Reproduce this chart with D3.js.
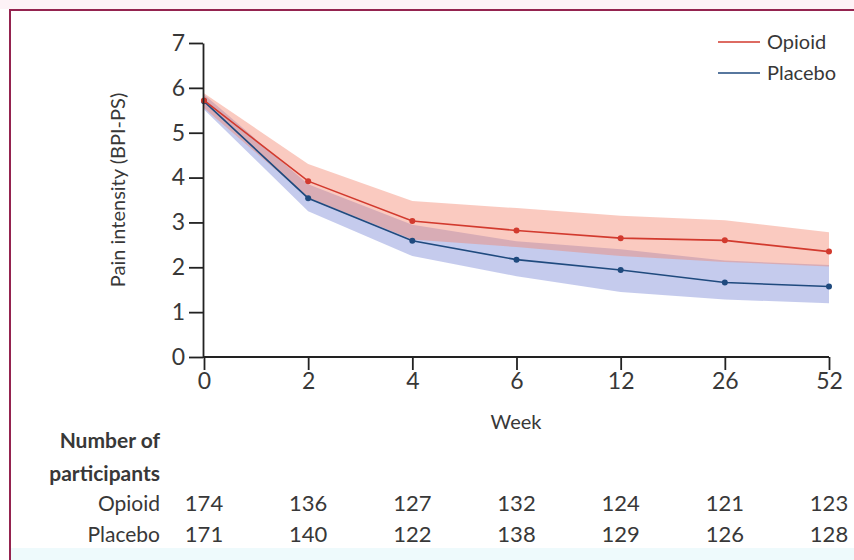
<!DOCTYPE html>
<html>
<head>
<meta charset="utf-8">
<script src="https://cdn.jsdelivr.net/npm/d3@7"></script>
<style>
  body { margin: 0; background: #fff; }
  svg text { font-family: Lato, "Open Sans", sans-serif; fill: #383838; }
</style>
</head>
<body>
<div id="chart"></div>
<script>
// weeks on the x axis
const weeks = ["0", "2", "4", "6", "12", "26", "52"];

// pain intensity means and 95% CI
const opioidMean  = [5.72, 3.92, 3.03, 2.82, 2.65, 2.60, 2.35];
const opioidLow   = [5.55, 3.55, 2.62, 2.45, 2.25, 2.12, 2.02];
const opioidHigh  = [5.88, 4.30, 3.48, 3.32, 3.15, 3.05, 2.78];
const placeboMean = [5.70, 3.54, 2.59, 2.17, 1.94, 1.66, 1.57];
const placeboLow  = [5.52, 3.25, 2.25, 1.80, 1.45, 1.28, 1.20];
const placeboHigh = [5.85, 3.85, 2.95, 2.58, 2.40, 2.15, 2.05];

// number of participants at each week
const opioidN  = [174, 136, 127, 132, 124, 121, 123];
const placeboN = [171, 140, 122, 138, 129, 126, 128];

const yTicks = [0, 1, 2, 3, 4, 5, 6, 7];

const width = 854, height = 560;

const svg = d3.select("#chart").append("svg")
    .attr("width", width)
    .attr("height", height);

// background bits of the frame
svg.append("rect").attr("x", 0).attr("y", 0).attr("width", width).attr("height", 9)
    .attr("fill", "#fdf2f6");
svg.append("rect").attr("x", 11).attr("y", 548).attr("width", width).attr("height", 12)
    .attr("fill", "#eefafc");
svg.append("rect").attr("x", 10).attr("y", 10).attr("width", 900).attr("height", 700)
    .attr("fill", "none").attr("stroke", "#94234f").attr("stroke-width", 2);

const x = d3.scalePoint().domain(weeks).range([204, 829]);
const y = d3.scaleLinear().domain([0, 7]).range([357, 43]);

function rows(mean, low, high) {
    return weeks.map((w, i) => ({week: w, mean: mean[i], low: low[i], high: high[i]}));
}
const series = [
    {name: "Placebo", color: "#1f4a7e", band: "#7482d4", data: rows(placeboMean, placeboLow, placeboHigh)},
    {name: "Opioid", color: "#d23a2e", band: "#f2806a", data: rows(opioidMean, opioidLow, opioidHigh)}
];

const area = d3.area()
    .x(d => x(d.week))
    .y0(d => y(d.low))
    .y1(d => y(d.high));
const line = d3.line()
    .x(d => x(d.week))
    .y(d => y(d.mean));

series.forEach(s => {
    svg.append("path")
        .datum(s.data)
        .attr("d", area)
        .attr("fill", s.band)
        .attr("fill-opacity", 0.42);
});
series.forEach(s => {
    svg.append("path")
        .datum(s.data)
        .attr("d", line)
        .attr("fill", "none")
        .attr("stroke", s.color)
        .attr("stroke-width", 1.6);
    svg.selectAll(null)
        .data(s.data)
        .enter()
        .append("circle")
        .attr("cx", d => x(d.week))
        .attr("cy", d => y(d.mean))
        .attr("r", 3)
        .attr("fill", s.color);
});

// axes
const yAxis = svg.append("g")
    .attr("transform", "translate(203,0)")
    .call(d3.axisLeft(y).tickValues(yTicks).tickFormat(d3.format("d"))
        .tickSize(14).tickSizeOuter(0).tickPadding(4));
const xAxis = svg.append("g")
    .attr("transform", "translate(0,357)")
    .call(d3.axisBottom(x).tickSize(13).tickSizeOuter(0).tickPadding(3));
xAxis.select(".domain").attr("d", "M203,0H829");

[xAxis, yAxis].forEach(g => {
    g.selectAll(".domain, .tick line").attr("stroke", "#222").attr("stroke-width", 1.8);
    g.selectAll(".tick text").style("font-size", "23px").attr("fill", "#383838");
});

svg.append("text")
    .attr("x", 516).attr("y", 429)
    .attr("text-anchor", "middle")
    .style("font-size", "20px")
    .text("Week");

svg.append("text")
    .attr("transform", "translate(125,190) rotate(-90)")
    .attr("text-anchor", "middle")
    .style("font-size", "20px")
    .text("Pain intensity (BPI-PS)");

// legend
const legend = svg.append("g");
[...series].reverse().forEach((s, i) => {
    const ly = 42 + i * 31;
    legend.append("line")
        .attr("x1", 718).attr("x2", 760)
        .attr("y1", ly).attr("y2", ly)
        .attr("stroke", s.color).attr("stroke-width", 1.6);
    legend.append("text")
        .attr("x", 767).attr("y", ly + 7)
        .style("font-size", "20px")
        .text(s.name);
});

// number of participants table
svg.append("text").attr("x", 160).attr("y", 448)
    .attr("text-anchor", "end").style("font-size", "21px").style("font-weight", "bold")
    .attr("fill", "#222").text("Number of");
svg.append("text").attr("x", 160).attr("y", 481)
    .attr("text-anchor", "end").style("font-size", "21px").style("font-weight", "bold")
    .attr("fill", "#222").text("participants");

[{label: "Opioid", n: opioidN, yy: 511}, {label: "Placebo", n: placeboN, yy: 542}].forEach(r => {
    svg.append("text").attr("x", 160).attr("y", r.yy)
        .attr("text-anchor", "end").style("font-size", "21px").text(r.label);
    svg.selectAll(null)
        .data(r.n)
        .enter()
        .append("text")
        .attr("x", (d, i) => x(weeks[i]))
        .attr("y", r.yy)
        .attr("text-anchor", "middle")
        .style("font-size", "22px")
        .text(d => d);
});
</script>
</body>
</html>
